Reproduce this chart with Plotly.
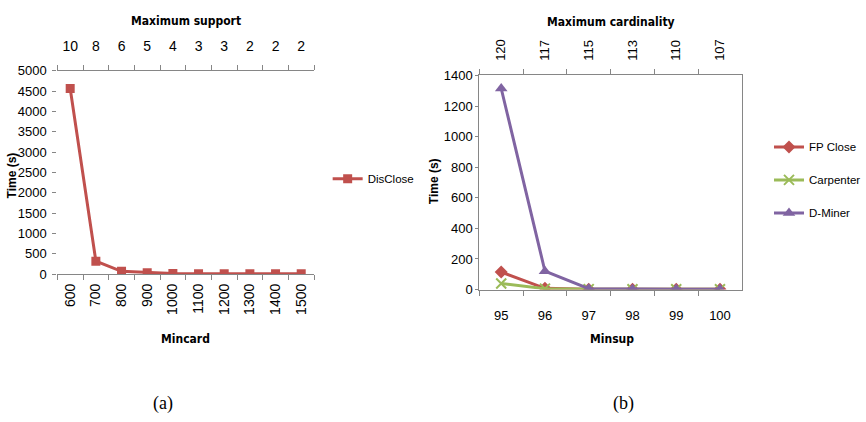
import plotly.graph_objects as go

# ---------------- data ----------------
mincard = ["600", "700", "800", "900", "1000", "1100", "1200", "1300", "1400", "1500"]
max_support = ["10", "8", "6", "5", "4", "3", "3", "2", "2", "2"]
disclose_time = [4560, 320, 70, 35, 18, 12, 10, 10, 10, 10]

minsup = ["95", "96", "97", "98", "99", "100"]
max_card = ["120", "117", "115", "113", "110", "107"]
fpclose_time = [115, 8, 3, 2, 2, 2]
carpenter_time = [40, 6, 3, 2, 2, 2]
dminer_time = [1315, 120, 6, 3, 3, 3]

# ---------------- style ----------------
W, H = 866, 422
SANS = "Liberation Sans, Arial, sans-serif"
COND = "DejaVu Sans Condensed, Liberation Sans Narrow, Arial Narrow, sans-serif"
RED, GREEN, PURPLE = "#C0504D", "#9BBB59", "#8064A2"
AXC = "#868686"

def px_x(x):
    return x / W

def px_y(y):
    return 1 - y / H

fig = go.Figure()

# ---- chart (a) ----
fig.add_trace(go.Scatter(x=mincard, y=disclose_time, mode="lines+markers", name="DisClose",
                         line=dict(color=RED, width=3),
                         marker=dict(symbol="square", size=9, color=RED),
                         xaxis="x", yaxis="y", legend="legend"))
fig.add_trace(go.Scatter(x=mincard, y=disclose_time, mode="lines", line=dict(width=0),
                         opacity=0, showlegend=False, hoverinfo="skip",
                         xaxis="x2", yaxis="y"))

# ---- chart (b) ----
fig.add_trace(go.Scatter(x=minsup, y=fpclose_time, mode="lines+markers", name="FP Close",
                         line=dict(color=RED, width=3),
                         marker=dict(symbol="diamond", size=10, color=RED),
                         xaxis="x3", yaxis="y3", legend="legend2", legendgroup="a"))
fig.add_trace(go.Scatter(x=minsup, y=carpenter_time, mode="lines+markers", name="Carpenter",
                         line=dict(color=GREEN, width=3),
                         marker=dict(symbol="x-thin-open", size=10, color=GREEN,
                                     line=dict(color=GREEN, width=2)),
                         xaxis="x3", yaxis="y3", legend="legend2", legendgroup="b"))
fig.add_trace(go.Scatter(x=minsup, y=dminer_time, mode="lines+markers", name="D-Miner",
                         line=dict(color=PURPLE, width=3),
                         marker=dict(symbol="triangle-up", size=11, color=PURPLE),
                         xaxis="x3", yaxis="y3", legend="legend2", legendgroup="c"))
fig.add_trace(go.Scatter(x=minsup, y=dminer_time, mode="lines", line=dict(width=0),
                         opacity=0, showlegend=False, hoverinfo="skip",
                         xaxis="x4", yaxis="y3"))

tf_a = dict(family=SANS, size=14, color="black")
tf_ay = dict(family=SANS, size=13, color="black")
tf_b = dict(family=SANS, size=13, color="black")

common_x = dict(type="category", showgrid=False, zeroline=False, showline=True,
                linecolor=AXC, linewidth=1, ticks="outside", tickcolor=AXC,
                ticklen=5, tickson="boundaries")
common_y = dict(showgrid=False, zeroline=False, ticks="outside", tickcolor=AXC,
                ticklen=4)

dom_a_x = [px_x(59), px_x(323)]
dom_a_y = [px_y(277), px_y(66)]
dom_b_x = [px_x(493), px_x(763)]
dom_b_y = [px_y(293), px_y(71)]

fig.update_layout(
    width=W, height=H, margin=dict(l=0, r=0, t=0, b=0),
    paper_bgcolor="white", plot_bgcolor="white",
    showlegend=True,
    xaxis=dict(common_x, domain=dom_a_x, anchor="y", range=[-0.5, 9.5],
               tickangle=-90, side="bottom", tickfont=tf_a, ticklabelstandoff=3),
    xaxis2=dict(common_x, domain=dom_a_x, anchor="y", overlaying="x", side="top",
                range=[-0.5, 9.5], tickvals=mincard, ticktext=max_support,
                tickangle=0, tickfont=tf_a, ticklabelstandoff=13),
    yaxis=dict(common_y, domain=dom_a_y, anchor="x", range=[0, 5000], dtick=500,
               showline=False, tickfont=tf_ay, ticklabelstandoff=3),
    yaxis2=dict(domain=dom_a_y, anchor="x", overlaying="y", side="right", range=[0, 5000],
                showline=True, linecolor=AXC, showticklabels=False, ticks="",
                showgrid=False, zeroline=False),
    xaxis3=dict(common_x, domain=dom_b_x, anchor="y3", range=[-0.5, 5.5],
                tickangle=0, side="bottom", tickfont=tf_b, ticklabelstandoff=14),
    xaxis4=dict(common_x, domain=dom_b_x, anchor="y3", overlaying="x3", side="top",
                range=[-0.5, 5.5], tickvals=minsup, ticktext=max_card,
                tickangle=-90, tickfont=tf_b, ticklabelstandoff=11),
    yaxis3=dict(common_y, domain=dom_b_y, anchor="x3", range=[0, 1400], dtick=200,
                showline=True, linecolor=AXC, mirror=True, tickfont=tf_b, ticklen=3),
    legend=dict(x=px_x(337), y=px_y(163), xanchor="left", yanchor="top",
                font=dict(family=SANS, size=11.5, color="black"),
                bgcolor="rgba(0,0,0,0)", itemwidth=30),
    legend2=dict(x=px_x(791), y=px_y(130), xanchor="left", yanchor="top",
                 font=dict(family=SANS, size=11.5, color="black"),
                 bgcolor="rgba(0,0,0,0)", itemwidth=30, tracegroupgap=14),
)

titlefont = dict(family=COND, size=12, color="black")
boldfont = dict(family=SANS, size=12, color="black")
serif = dict(family="Liberation Serif, Times New Roman, serif", size=18, color="black")
annos = [
    dict(text="<b>Maximum support</b>", x=px_x(191), y=px_y(15), font=titlefont),
    dict(text="<b>Mincard</b>", x=px_x(191), y=px_y(344), font=titlefont),
    dict(text="<b>Time (s)</b>", x=px_x(12), y=px_y(175), font=boldfont, textangle=-90),
    dict(text="<b>Maximum cardinality</b>", x=px_x(628), y=px_y(16), font=titlefont),
    dict(text="<b>Minsup</b>", x=px_x(629), y=px_y(344), font=titlefont),
    dict(text="<b>Time (s)</b>", x=px_x(446), y=px_y(181), font=boldfont, textangle=-90),
    dict(text="(a)", x=px_x(168), y=px_y(411), font=serif),
    dict(text="(b)", x=px_x(641), y=px_y(411), font=serif),
]
for a in annos:
    a.update(xref="paper", yref="paper", showarrow=False, xanchor="center", yanchor="middle")
fig.update_layout(annotations=annos)

fig.write_html("out.html")
